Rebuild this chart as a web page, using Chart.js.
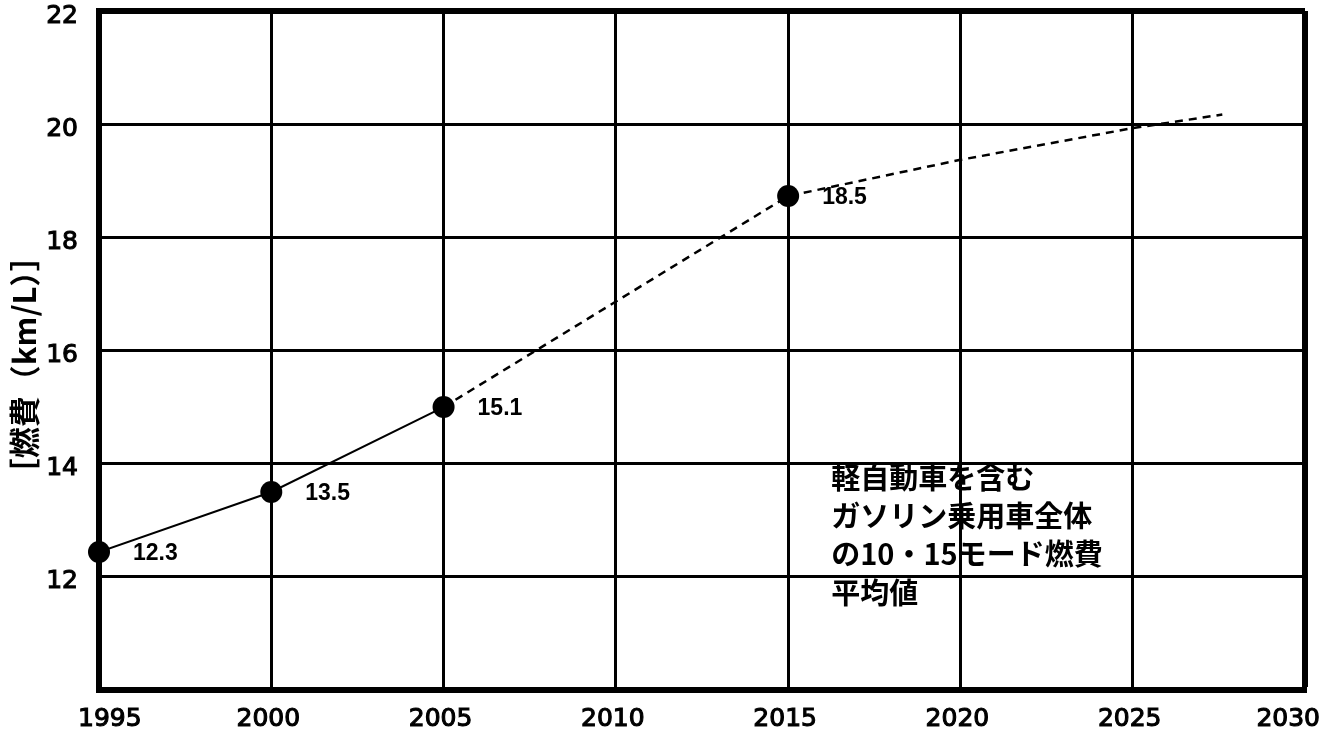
<!DOCTYPE html>
<html>
<head>
<meta charset="utf-8">
<script src="https://cdn.jsdelivr.net/npm/chart.js@4"></script>
<style>
html,body{margin:0;padding:0;background:#fff;}
#wrap{width:1324px;height:731px;}
</style>
</head>
<body>
<div id="wrap"><canvas id="c" width="1324" height="731"></canvas></div>
<script>
// ---- data ----
const pointYears = [1995, 2000, 2005, 2015];
const pointValues = [12.44, 13.5, 15.0, 18.73];
const pointLabels = ["12.3", "13.5", "15.1", "18.5"];

const solidYears = [1995, 2000, 2005];
const solidValues = [12.44, 13.5, 15.0];

const dashedYears = [2005, 2015, 2020, 2025, 2027.6];
const dashedValues = [15.0, 18.73, 19.37, 19.93, 20.17];

const xTicks = [1995, 2000, 2005, 2010, 2015, 2020, 2025, 2030];
const yTicks = [10, 12, 14, 16, 18, 20, 22];

const yTitle = "［燃費（km/L）］";
const noteLines = ["軽自動車を含む", "ガソリン乗用車全体", "の10・15モード燃費", "平均値"];

const toXY = (xs, ys) => xs.map((x, i) => ({x: x, y: ys[i]}));

const TICK_FONT = '25px "DejaVu Sans", sans-serif';

const labelPlugin = {
  id: 'pointLabels',
  afterDraw(chart) {
    const ctx = chart.ctx;
    const meta = chart.getDatasetMeta(2);
    const xs = chart.scales.x, ys = chart.scales.y;
    const area = chart.chartArea;
    ctx.save();
    ctx.fillStyle = '#000';
    ctx.strokeStyle = '#000';
    ctx.font = 'bold 23px "Liberation Sans", Arial, sans-serif';
    ctx.textBaseline = 'middle';
    ctx.textAlign = 'left';
    meta.data.forEach((el, i) => {
      ctx.fillText(pointLabels[i], el.x + 34, el.y + 2);
    });
    // note text
    const left = xs.getPixelForValue(2016.25);
    const top = ys.getPixelForValue(13.75);
    ctx.font = 'bold 29px "Noto Sans CJK JP", sans-serif';
    noteLines.forEach((t, i) => ctx.fillText(t, left, top + i * 38.3));
    // x tick labels (first/last kept inside the canvas as in the original)
    ctx.font = TICK_FONT;
    ctx.lineWidth = 1.1;
    xTicks.forEach((v, i) => {
      const px = xs.getPixelForValue(v);
      let x = px - 3;
      if (i === 0) { ctx.textAlign = 'left'; x = px - 21; }
      else if (i === xTicks.length - 1) { ctx.textAlign = 'right'; x = px + 15; }
      else { ctx.textAlign = 'center'; }
      ctx.fillText(String(v), x, area.bottom + 29);
      ctx.strokeText(String(v), x, area.bottom + 29);
    });
    // y axis title, rotated
    ctx.save();
    ctx.translate(24, ys.getPixelForValue(15.75));
    ctx.rotate(-Math.PI / 2);
    ctx.textAlign = 'center';
    ctx.font = 'bold 31px "Noto Sans CJK JP", sans-serif';
    ctx.fillText(yTitle, 0, 0);
    ctx.restore();
    ctx.restore();
  }
};

const zeroPad = s => { s.paddingLeft = 0; s.paddingRight = 0; s.paddingTop = 0; s.paddingBottom = 0; };

new Chart(document.getElementById('c'), {
  type: 'scatter',
  data: {
    datasets: [
      {
        data: toXY(solidYears, solidValues),
        showLine: true,
        borderColor: '#000',
        borderWidth: 2,
        pointRadius: 0,
        fill: false
      },
      {
        data: toXY(dashedYears, dashedValues),
        showLine: true,
        borderColor: '#000',
        borderWidth: 2.5,
        borderDash: [8, 6],
        pointRadius: 0,
        fill: false
      },
      {
        data: toXY(pointYears, pointValues),
        showLine: false,
        clip: false,
        pointRadius: 11,
        pointBackgroundColor: '#000',
        pointBorderColor: '#000',
        pointBorderWidth: 0
      }
    ]
  },
  options: {
    responsive: false,
    animation: false,
    events: [],
    layout: {padding: {left: 0, right: 19, top: 10, bottom: 0}},
    plugins: {legend: {display: false}, tooltip: {enabled: false}},
    scales: {
      x: {
        type: 'linear',
        min: 1995, max: 2030,
        afterBuildTicks: s => { s.ticks = xTicks.map(v => ({value: v})); },
        afterFit: s => { s.height = 41; zeroPad(s); },
        ticks: {display: false},
        grid: {
          color: '#000',
          drawTicks: false,
          lineWidth: c => (c.tick && c.tick.value === 2030) ? 6 : 3
        },
        border: {display: true, color: '#000', width: 6}
      },
      y: {
        type: 'linear',
        min: 10, max: 22,
        afterBuildTicks: s => { s.ticks = yTicks.map(v => ({value: v})); },
        afterFit: s => { s.width = 99; zeroPad(s); },
        ticks: {
          color: '#000',
          padding: 21,
          labelOffset: 5,
          textStrokeColor: '#000',
          textStrokeWidth: 1.1,
          font: {family: '"DejaVu Sans", sans-serif', size: 25},
          callback: v => v === 10 ? '' : String(v)
        },
        grid: {
          color: '#000',
          drawTicks: false,
          lineWidth: c => (c.tick && c.tick.value === 22) ? 6 : 3
        },
        border: {display: true, color: '#000', width: 6}
      }
    }
  },
  plugins: [labelPlugin]
});
</script>
</body>
</html>
